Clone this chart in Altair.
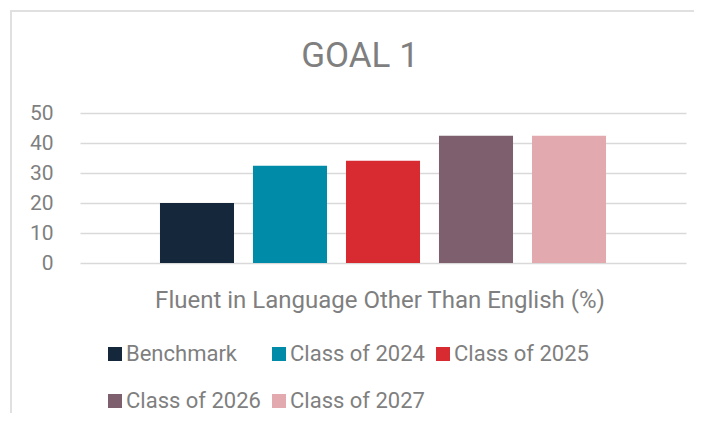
import altair as alt
import pandas as pd

category = ["Fluent in Language Other Than English (%)"]
series = ["Benchmark", "Class of 2024", "Class of 2025", "Class of 2026", "Class of 2027"]
values = [20.0, 32.4, 34.1, 42.4, 42.4]
colors = ["#15273B", "#008BA8", "#D82A31", "#7E5F6E", "#E2A9AF"]
y_ticks = [0, 10, 20, 30, 40, 50]

df = pd.DataFrame({
    "category": category * len(series),
    "series": series,
    "value": values,
})

FONT = "Roboto"
GRAY = "#7F7F7F"

bars = alt.Chart(df).mark_bar().encode(
    x=alt.X(
        "category:N",
        title=None,
        scale=alt.Scale(paddingInner=0, paddingOuter=0),
        axis=alt.Axis(labelAngle=0, labelFontSize=24, labelColor=GRAY, labelFont=FONT,
                      domain=False, ticks=False, labelPadding=25, labelLimit=0, grid=False,
                      labelOffset=-3),
    ),
    xOffset=alt.XOffset("series:N", sort=series,
                        scale=alt.Scale(paddingInner=0.204, paddingOuter=0.86)),
    y=alt.Y(
        "value:Q",
        title=None,
        scale=alt.Scale(domain=[0, 50], nice=False),
        axis=alt.Axis(values=y_ticks, labelFontSize=21, labelColor=GRAY, labelFont=FONT,
                      domain=False, ticks=False, labelPadding=27, grid=True,
                      gridColor="#D9D9D9", gridWidth=1.4),
    ),
    color=alt.Color(
        "series:N", sort=series,
        scale=alt.Scale(domain=series, range=colors),
        legend=alt.Legend(title=None, orient="none", legendX=24, legendY=230,
                          columns=3, direction="horizontal",
                          symbolType="square", symbolSize=196, symbolStrokeWidth=0,
                          labelFontSize=22, labelColor=GRAY, labelFont=FONT,
                          labelOffset=0, columnPadding=7, rowPadding=25, padding=0),
    ),
)

frame = alt.Chart(pd.DataFrame({"k": [0]})).mark_rect(
    filled=False, stroke="#E0E0E0", strokeWidth=2
).encode(
    x=alt.value(-69), x2=alt.value(700), y=alt.value(-102), y2=alt.value(420)
)

chart = alt.layer(frame, bars).properties(
    width=606,
    height=150,
    autosize=alt.AutoSizeParams(type="none"),
    padding={"left": 72, "top": 105, "right": 8, "bottom": 150},
    title=alt.Title("GOAL 1", fontSize=35, color=GRAY, font=FONT, fontWeight="normal",
                    anchor="middle", dx=-23, offset=0, dy=92, baseline="alphabetic"),
).configure_view(stroke=None)

chart.save("out.html", embed_options={"renderer": "svg", "actions": False})
